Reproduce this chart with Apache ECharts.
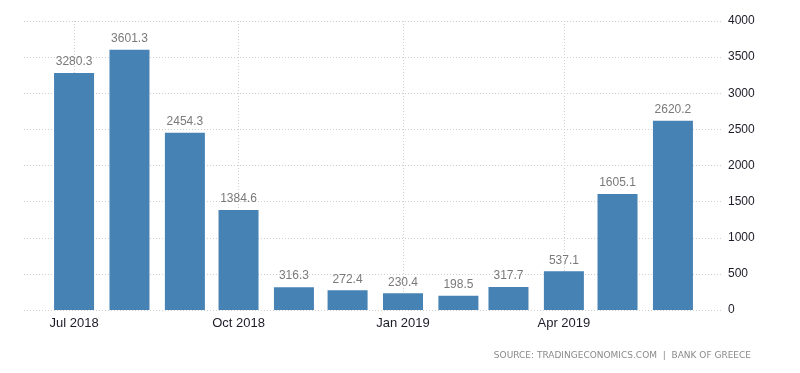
<!DOCTYPE html>
<html><head><meta charset="utf-8">
<script src="https://cdn.jsdelivr.net/npm/echarts@6/dist/echarts.min.js"></script>
<style>html,body{margin:0;padding:0;background:#fff}#c{width:800px;height:373px}</style>
</head><body><div id="c"></div>
<script>
const months = ['2018-07','2018-08','2018-09','2018-10','2018-11','2018-12','2019-01','2019-02','2019-03','2019-04','2019-05','2019-06'];
const values = [3280.3,3601.3,2454.3,1384.6,316.3,272.4,230.4,198.5,317.7,537.1,1605.1,2620.2];
const tickMonths = ['2018-07','2018-10','2019-01','2019-04'];
const tickLabels = ['Jul 2018','Oct 2018','Jan 2019','Apr 2019'];
const yTicks = [0,500,1000,1500,2000,2500,3000,3500,4000];

// x position in days since 2018-07-01 (UTC-based, timezone independent)
const BASE = Date.UTC(2018,6,1);
function day(m){ const p=m.split('-'); return (Date.UTC(+p[0], +p[1]-1, 1)-BASE)/86400000; }
const tickDays = tickMonths.map(day);
const FONT = 'Liberation Sans';
const chart = echarts.init(document.getElementById('c'));
chart.setOption({
  animation:false,
  backgroundColor:'#fff',
  textStyle:{fontFamily:FONT},
  grid:{left:24,right:77,top:21,bottom:63},
  xAxis:{
    type:'value',
    min: day(months[0]) - 28,
    max: day(months[months.length-1]) + 28,
    axisLine:{show:false},
    axisTick:{show:false, customValues: tickDays},
    axisLabel:{customValues: tickDays, color:'#1c1c28', fontSize:13, margin:7, fontFamily:FONT,
      formatter:function(v){ const i=tickDays.indexOf(v); return i>=0?tickLabels[i]:''; }},
    splitLine:{show:true, lineStyle:{color:'#d0d0d0', type:[1,2], width:1}}
  },
  yAxis:{
    type:'value', position:'right', min:yTicks[0], max:yTicks[yTicks.length-1], interval:500,
    axisLine:{show:false}, axisTick:{show:false},
    axisLabel:{color:'#1c1c28', fontSize:12, margin:5, fontFamily:FONT, formatter:function(v){ return String(v); }},
    splitLine:{lineStyle:{color:'#d0d0d0', type:[1,2], width:1}}
  },
  series:[{
    type:'bar', barWidth:40,
    data: months.map((m,i)=>[day(m), values[i]]),
    itemStyle:{color:'#4682b4'},
    label:{show:true, position:'top', distance:5, color:'#7a7a7a', fontSize:12, fontFamily:FONT,
      formatter:function(p){ return p.value[1].toFixed(1); }}
  }],
  graphic:[{type:'text', right:49, top:351,
    style:{text:'SOURCE: TRADINGECONOMICS.COM  |  BANK OF GREECE', fill:'#8a8a8a', font:'9px "DejaVu Sans"'}}]
});
</script></body></html>
